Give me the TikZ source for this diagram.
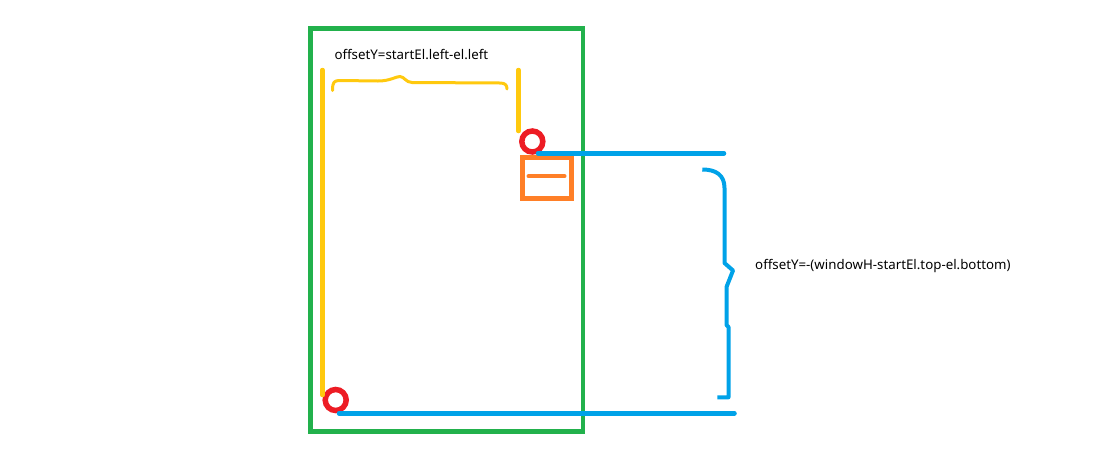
\documentclass[tikz,border=0pt]{standalone}
\usepackage{fontspec}
\setmainfont{Noto Sans}
\definecolor{pgreen}{HTML}{22B14C}
\definecolor{pyellow}{HTML}{FFC90E}
\definecolor{pred}{HTML}{ED1C24}
\definecolor{pblue}{HTML}{00A2E8}
\definecolor{porange}{HTML}{FF7F27}
\begin{document}
\begin{tikzpicture}[x=1pt,y=-1pt,
  frame/.style={draw=pgreen,line width=4.5pt},
  ystroke/.style={draw=pyellow,line width=4.5pt,line cap=round},
  ybrace/.style={draw=pyellow,line width=3pt,line cap=round,line join=round},
  bstroke/.style={draw=pblue,line width=4.5pt,line cap=round},
  bbrace/.style={draw=pblue,line width=4pt,line join=round},
  ring/.style={circle,draw=pred,line width=5.5pt,inner sep=0pt,minimum size=21pt},
  obox/.style={rectangle,draw=porange,line width=5pt,inner sep=0pt,minimum width=49pt,minimum height=41pt},
  label/.style={font=\fontsize{13.3}{16}\selectfont,inner sep=0pt,anchor=base west}]
\useasboundingbox (0,0) rectangle (1108,464);
% green window frame
\node[frame,rectangle,inner sep=0pt,minimum width=272.5pt,minimum height=403pt] (win) at (446.75,230) {};
% red circles
\node[ring] (startc) at (532.3,141.5) {};
\node[ring] (elc) at (335.7,400) {};
% orange element box
\node[obox] (el) at (547,177.9) {};
\coordinate (ol) at (528.5,176.3);
\coordinate (or) at (564.5,176.3);
\draw[draw=porange,line width=4pt,line cap=round] (ol) -- (or);
% yellow lines
\coordinate (y1a) at (322.5,70);
\coordinate (y1b) at (322.5,395);
\coordinate (y2a) at (518.5,70);
\coordinate (y2b) at (518.5,131);
\draw[ystroke] (y1a) -- (y1b);
\draw[ystroke] (y2a) -- (y2b);
\draw[ybrace] (332.5,90.5) .. controls (332.5,82) and (334,80.5) .. (340,80.5)
  -- (378,81) .. controls (390,81) and (396,76.5) .. (400,76.5)
  .. controls (404,76.5) and (406,82.5) .. (412,82.5)
  -- (500,83) .. controls (505,83) and (507,85) .. (507,89);
% blue lines
\coordinate (bt1) at (538,153.3);
\coordinate (bt2) at (724,153.3);
\coordinate (bb1) at (339,413.3);
\coordinate (bb2) at (734.5,413.3);
\draw[bstroke] (bt1) -- (bt2);
\draw[bstroke] (bb1) -- (bb2);
\draw[bbrace] (702.3,169.5) .. controls (716,169.5) and (724.5,175) .. (724.5,188)
  -- (724.5,263) -- (733,270.5) -- (726.5,287) -- (726.5,325) -- (728.5,327)
  -- (728.5,397.3) -- (717.3,397.3);
% labels
\node[label] (t1) at (334.3,59.3) {offsetY=startEl.left-el.left};
\node[label] (t2) at (755,269) {offsetY=-(windowH-startEl.top-el.bottom)};
\end{tikzpicture}
\end{document}
